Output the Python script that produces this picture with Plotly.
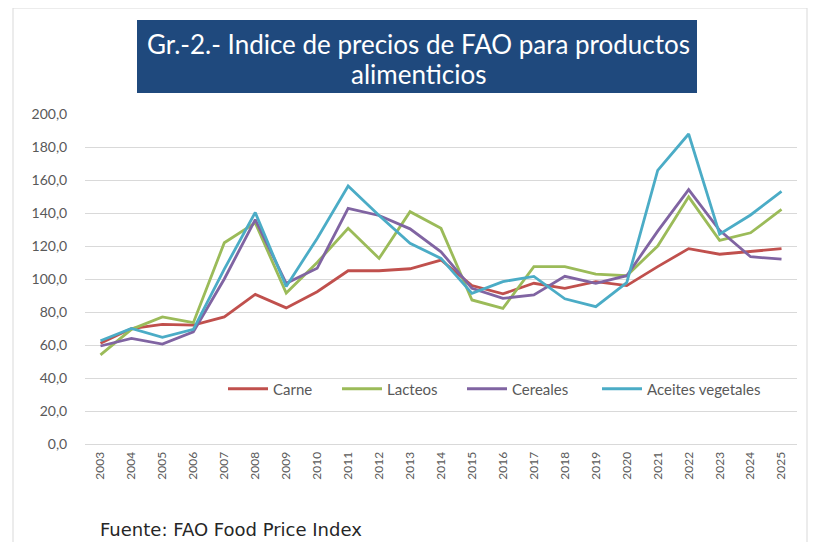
import plotly.graph_objects as go

years = [str(y) for y in range(2003, 2026)]

carne = [61, 70, 72.5, 72, 77, 90.7, 82.5, 92.3, 105, 105, 106.2, 111.5,
         96, 91, 97.4, 94.3, 98.4, 96, 107.5, 118.4, 115, 116.8, 118.4]
lacteos = [54, 69.5, 77, 73.5, 122, 134, 91.5, 110, 130.7, 112.5, 140.8, 130.7,
           87.3, 82.2, 107.5, 107.5, 103, 102, 120, 149.8, 123.4, 128, 142.2]
cereales = [59.4, 64, 60.6, 68, 100, 136, 97.4, 106.5, 142.8, 138.5, 130.4, 116.5,
            94.3, 88.3, 90.3, 101.6, 97.4, 102, 129, 154.2, 129.5, 113.5, 112]
aceites = [62.6, 70, 64.6, 69.5, 106, 140.3, 95.5, 124.6, 156.4, 138.5, 121.6, 112.5,
           91.3, 98.4, 101.6, 88, 83.2, 97.8, 165.8, 187.9, 127.2, 138.8, 153.1]

series_names = ["Carne", "Lacteos", "Cereales", "Aceites vegetales"]
series_values = [carne, lacteos, cereales, aceites]
series_colors = ["#C0504D", "#9BBB59", "#8064A2", "#4BACC6"]

y_tickvals = [0, 20, 40, 60, 80, 100, 120, 140, 160, 180, 200]
y_ticktext = ["0,0", "20,0", "40,0", "60,0", "80,0", "100,0", "120,0",
              "140,0", "160,0", "180,0", "200,0"]

title_lines = ["Gr.-2.- Indice de precios de FAO para productos", "alimenticios"]
source_text = "Fuente: FAO Food Price Index"

# page has an 8px body margin; work in page pixels and convert
OFF = 8
W, H = 820 - OFF, 542 - OFF
PL, PR, PT, PB = 85, 797, 114, 444   # plot area in page pixels
L, T = PL - OFF, PT - OFF
R = W - (PR - OFF)
B = H - (PB - OFF)
PW, PH = PR - PL, PB - PT


def px(x):
    return (x - PL) / PW


def py(y):
    return (PB - y) / PH


legend_ids = ["legend", "legend2", "legend3", "legend4"]
legend_starts = [229, 343, 468, 603]   # page px where each legend line begins

fig = go.Figure()
for name, vals, col, lid in zip(series_names, series_values, series_colors, legend_ids):
    fig.add_trace(go.Scatter(
        x=years, y=vals, name=name, mode="lines",
        line=dict(color=col, width=2.8), legend=lid,
    ))

legend_layout = {}
for lid, xs in zip(legend_ids, legend_starts):
    legend_layout[lid] = dict(
        orientation="h", x=px(xs - 6), y=py(389), xanchor="left", yanchor="middle",
        font=dict(size=15, color="#595959"), bgcolor="rgba(0,0,0,0)",
        itemwidth=40,
    )

fig.update_layout(
    width=W, height=H,
    margin=dict(l=L, r=R, t=T, b=B),
    paper_bgcolor="white", plot_bgcolor="white",
    font=dict(family="Lato, 'Open Sans', sans-serif", color="#595959"),
    showlegend=True,
    xaxis=dict(
        type="category", range=[-0.5, 22.5], showgrid=False, zeroline=False,
        tickangle=-90, tickfont=dict(size=12, color="#595959"),
        ticks="outside", ticklen=2, tickcolor="rgba(0,0,0,0)",
        showline=False,
    ),
    yaxis=dict(
        range=[0, 200], tickvals=y_tickvals, ticktext=y_ticktext,
        showgrid=True, gridcolor="#D9D9D9", gridwidth=1,
        zeroline=True, zerolinecolor="#D9D9D9", zerolinewidth=1,
        tickfont=dict(size=14, color="#595959"),
        ticks="outside", ticklen=14, tickcolor="rgba(0,0,0,0)",
    ),
    shapes=[
        dict(type="rect", xref="paper", yref="paper",
             x0=px(13), x1=px(807), y0=py(600), y1=py(8),
             line=dict(color="#D9D9D9", width=1), fillcolor="rgba(0,0,0,0)",
             layer="below"),
        dict(type="rect", xref="paper", yref="paper",
             x0=px(137), x1=px(697), y0=py(93), y1=py(20),
             line=dict(color="#1F497D", width=0), fillcolor="#1F497D"),
    ],
    annotations=[
        dict(text=title_lines[0], xref="paper", yref="paper",
             x=px(418), y=py(44), xanchor="center", yanchor="middle",
             showarrow=False, font=dict(size=26, color="white",
                                        family="Lato, sans-serif")),
        dict(text=title_lines[1], xref="paper", yref="paper",
             x=px(418), y=py(74), xanchor="center", yanchor="middle",
             showarrow=False, font=dict(size=26, color="white",
                                        family="Lato, sans-serif")),
        dict(text=source_text, xref="paper", yref="paper",
             x=px(98), y=py(529), xanchor="left", yanchor="middle",
             showarrow=False, font=dict(size=18, color="#262626",
                                        family="'DejaVu Sans', sans-serif")),
    ],
    **legend_layout,
)

fig.write_html("out.html")
